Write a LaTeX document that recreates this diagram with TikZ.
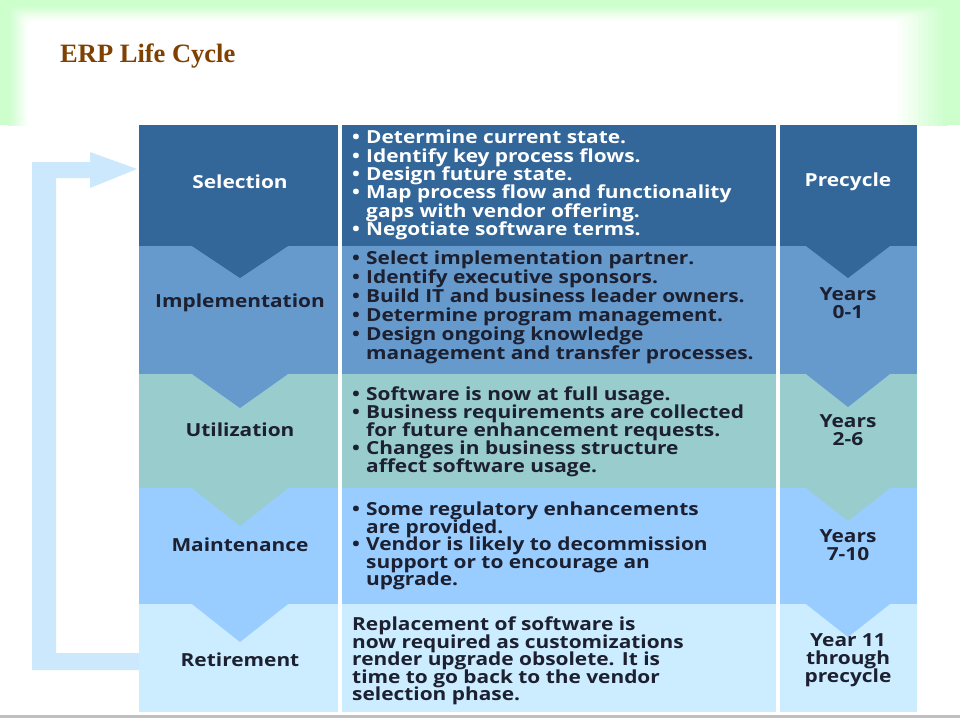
\documentclass[tikz,border=0pt]{standalone}
\usepackage{fontspec}
\setmainfont{Open Sans}[FakeStretch=1.16]
\newfontfamily\titlefont{Liberation Serif}
\definecolor{bgGreen}{RGB}{204,255,204}
\definecolor{cSel}{RGB}{51,102,153}
\definecolor{cImp}{RGB}{102,153,204}
\definecolor{cUti}{RGB}{153,204,204}
\definecolor{cMai}{RGB}{153,204,255}
\definecolor{cRet}{RGB}{204,236,255}
\definecolor{cArrow}{RGB}{204,232,252}
\definecolor{txtDark}{RGB}{28,32,48}
\definecolor{titleBrown}{RGB}{128,64,0}
\newcommand\bi{\makebox[14pt][l]{•}}
\newcommand\bc{\hspace*{14pt}}
\newcommand\fs[2]{\fontsize{#1}{#2}\selectfont\bfseries\lineskiplimit=-100pt\lineskip=0pt}
\tikzset{
  lbl/.style={font=\fs{18}{18}, text=txtDark, align=center, inner sep=0pt},
  lblW/.style={lbl, text=white},
  body/.style={inner sep=0pt, align=left, anchor=west, text=txtDark},
}
\begin{document}
\begin{tikzpicture}[x=1pt,y=-1pt]
\useasboundingbox (0,0) rectangle (960,720);
% green frame
\begin{scope}
\clip (0,0) rectangle (960,125);
\fill[bgGreen] (0,0) rectangle (960,125);
\foreach \i in {0,...,10}{
  \pgfmathsetmacro\pc{100-10*\i}
  \fill[bgGreen!\pc!white, rounded corners=6pt] (8+2*\i,5+1.5*\i) rectangle (948-5*\i,160);
}
\end{scope}
\node[anchor=base west, text=titleBrown, font=\titlefont\bfseries\fontsize{26.5}{28}\selectfont, inner sep=0pt] (title) at (60,62) {ERP Life Cycle};
% loop arrow
\fill[cArrow] (32,670) -- (32,162) -- (90,162) -- (90,152) -- (137,169) -- (90,188) -- (90,178) -- (56,178) -- (56,653) -- (139,653) -- (139,670) -- cycle;
% rows
\fill[cSel] (139,125) rectangle (917,246);
\fill[cImp] (139,246) rectangle (917,374);
\fill[cUti] (139,374) rectangle (917,488);
\fill[cMai] (139,488) rectangle (917,604);
\fill[cRet] (139,604) rectangle (917,712);
% chevrons
\fill[cSel] (192,246) -- (240,278) -- (288,246) -- cycle;
\fill[cSel] (806,246) -- (848,278) -- (890,246) -- cycle;
\fill[cImp] (192,374) -- (240,408) -- (288,374) -- cycle;
\fill[cImp] (806,374) -- (848,407) -- (890,374) -- cycle;
\fill[cUti] (192,488) -- (240,526) -- (288,488) -- cycle;
\fill[cUti] (806,488) -- (848,521) -- (890,488) -- cycle;
\fill[cMai] (192,604) -- (240,642) -- (288,604) -- cycle;
\fill[cMai] (806,604) -- (848,637) -- (890,604) -- cycle;
% separators
\fill[white] (338,125) rectangle (342,712);
\fill[white] (776,125) rectangle (780,712);
% bottom line
\fill[black!25] (0,715) rectangle (960,718);
% left labels
\node[lblW] (sel) at (240,182) {Selection};
\node[lbl] (imp) at (240,303) {Implementation};
\node[lbl] (uti) at (240,430) {Utilization};
\node[lbl] (mai) at (240,545) {Maintenance};
\node[lbl] (ret) at (240,660) {Retirement};
% right labels
\node[lblW] (pre) at (848,182) {Precycle};
\node[lbl] (y01) at (848,303) {Years\\0-1};
\node[lbl] (y26) at (848,430) {Years\\2-6};
\node[lbl] (y710) at (848,545) {Years\\7-10};
\node[lbl] (y11) at (848,660) {Year 11\\through\\precycle};
% middle texts
\node[body, text=white, font=\fs{18}{18.4}] (tsel) at (352,185) {\bi Determine current state.\\\bi Identify key process flows.\\\bi Design future state.\\\bi Map process flow and functionality\\\bc gaps with vendor offering.\\\bi Negotiate software terms.};
\node[body, font=\fs{18}{19}] (timp) at (352,307) {\bi Select implementation partner.\\\bi Identify executive sponsors.\\\bi Build IT and business leader owners.\\\bi Determine program management.\\\bi Design ongoing knowledge\\\bc management and transfer processes.};
\node[body, font=\fs{18}{18}] (tuti) at (352,432) {\bi Software is now at full usage.\\\bi Business requirements are collected\\\bc for future enhancement requests.\\\bi Changes in business structure\\\bc affect software usage.};
\node[body, font=\fs{18}{17.5}] (tmai) at (352,546) {\bi Some regulatory enhancements\\\bc are provided.\\\bi Vendor is likely to decommission\\\bc support or to encourage an\\\bc upgrade.};
\node[body, font=\fs{18}{17.5}] (tret) at (352,661) {Replacement of software is\\now required as customizations\\render upgrade obsolete. It is\\time to go back to the vendor\\selection phase.};
\end{tikzpicture}
\end{document}
